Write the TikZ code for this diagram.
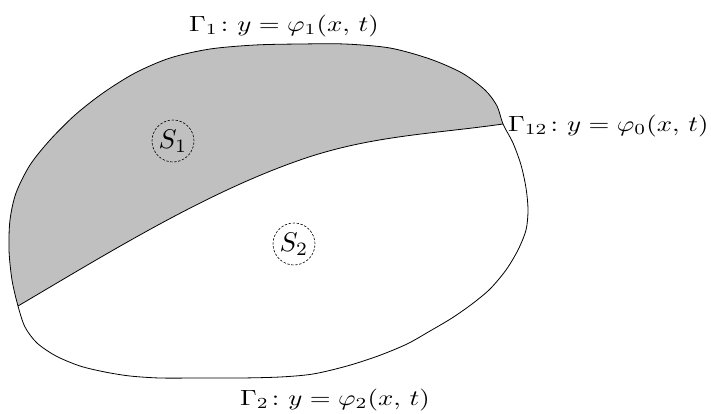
\documentclass[tikz,border=0pt]{standalone}
\usepackage{graphicx}
\usepackage{amsmath}
\definecolor{regiongray}{RGB}{192,192,192}
\tikzset{
  bnd/.style={draw=black, line width=0.8pt, line join=round},
  eqlabel/.style={inner sep=0pt},
  regionlabel/.style={circle, draw=black, dash pattern=on 2.4pt off 1.6pt, line width=0.6pt,
    minimum size=42pt, inner sep=0pt}
}
\newcommand{\eqtxt}[1]{\scalebox{2.68}[2.2]{#1}}
\newcommand{\regtxt}[1]{\scalebox{2.7}{#1}}
\newcommand{\outerpts}{(18,306) (12,280) (9,250) (10,220) (16,193) (30,165) (50,140) (75,115) (103,93) (135,73) (170,58) (210,49) (255,45) (300,44) (345,44) (390,48) (430,59) (462,73) (485,90) (497,106) (503,124) (513,143) (521,165) (526,188) (528,210) (526,230) (518,250) (506,270) (490,289) (472,304) (452,318) (430,331) (407,344) (378,356) (347,366) (313,374) (280,377) (240,378) (200,378) (160,378) (130,376) (105,372) (80,366) (56,356) (37,343) (25,327)}
\begin{document}
\begin{tikzpicture}[x=1pt,y=-1pt]
\useasboundingbox (0,0) rectangle (711,413);
\coordinate (J) at (503,124);
\coordinate (M) at (300,160);
\coordinate (D) at (18,306);
% gray upper region, clipped by the outer boundary
\begin{scope}
  \clip plot[smooth cycle, tension=0.5] coordinates {\outerpts};
  \fill[regiongray] (J) .. controls (433,134) and (370,135.5) .. (M)
     .. controls (205,193) and (108,253) .. (D) -- (0,316) -- (0,0) -- (515,0) -- (515,118) -- cycle;
\end{scope}
% outer boundary
\draw[bnd] plot[smooth cycle, tension=0.5] coordinates {\outerpts};
% interface
\draw[bnd] (J) .. controls (433,134) and (370,135.5) .. (M)
     .. controls (205,193) and (108,253) .. (D);
% region labels
\node[regionlabel] (s1) at (173,141) {\regtxt{$S_1$}};
\node[regionlabel] (s2) at (294,244) {\regtxt{$S_2$}};
% boundary labels
\node[eqlabel, anchor=base] (g1) at (284,31) {\eqtxt{$\Gamma_1\colon y=\varphi_1(x,\,t)$}};
\node[eqlabel, anchor=base west] (g12) at (508,131) {\eqtxt{$\Gamma_{12}\colon y=\varphi_0(x,\,t)$}};
\node[eqlabel, anchor=base] (g2) at (335,405) {\eqtxt{$\Gamma_2\colon y=\varphi_2(x,\,t)$}};
\end{tikzpicture}
\end{document}
